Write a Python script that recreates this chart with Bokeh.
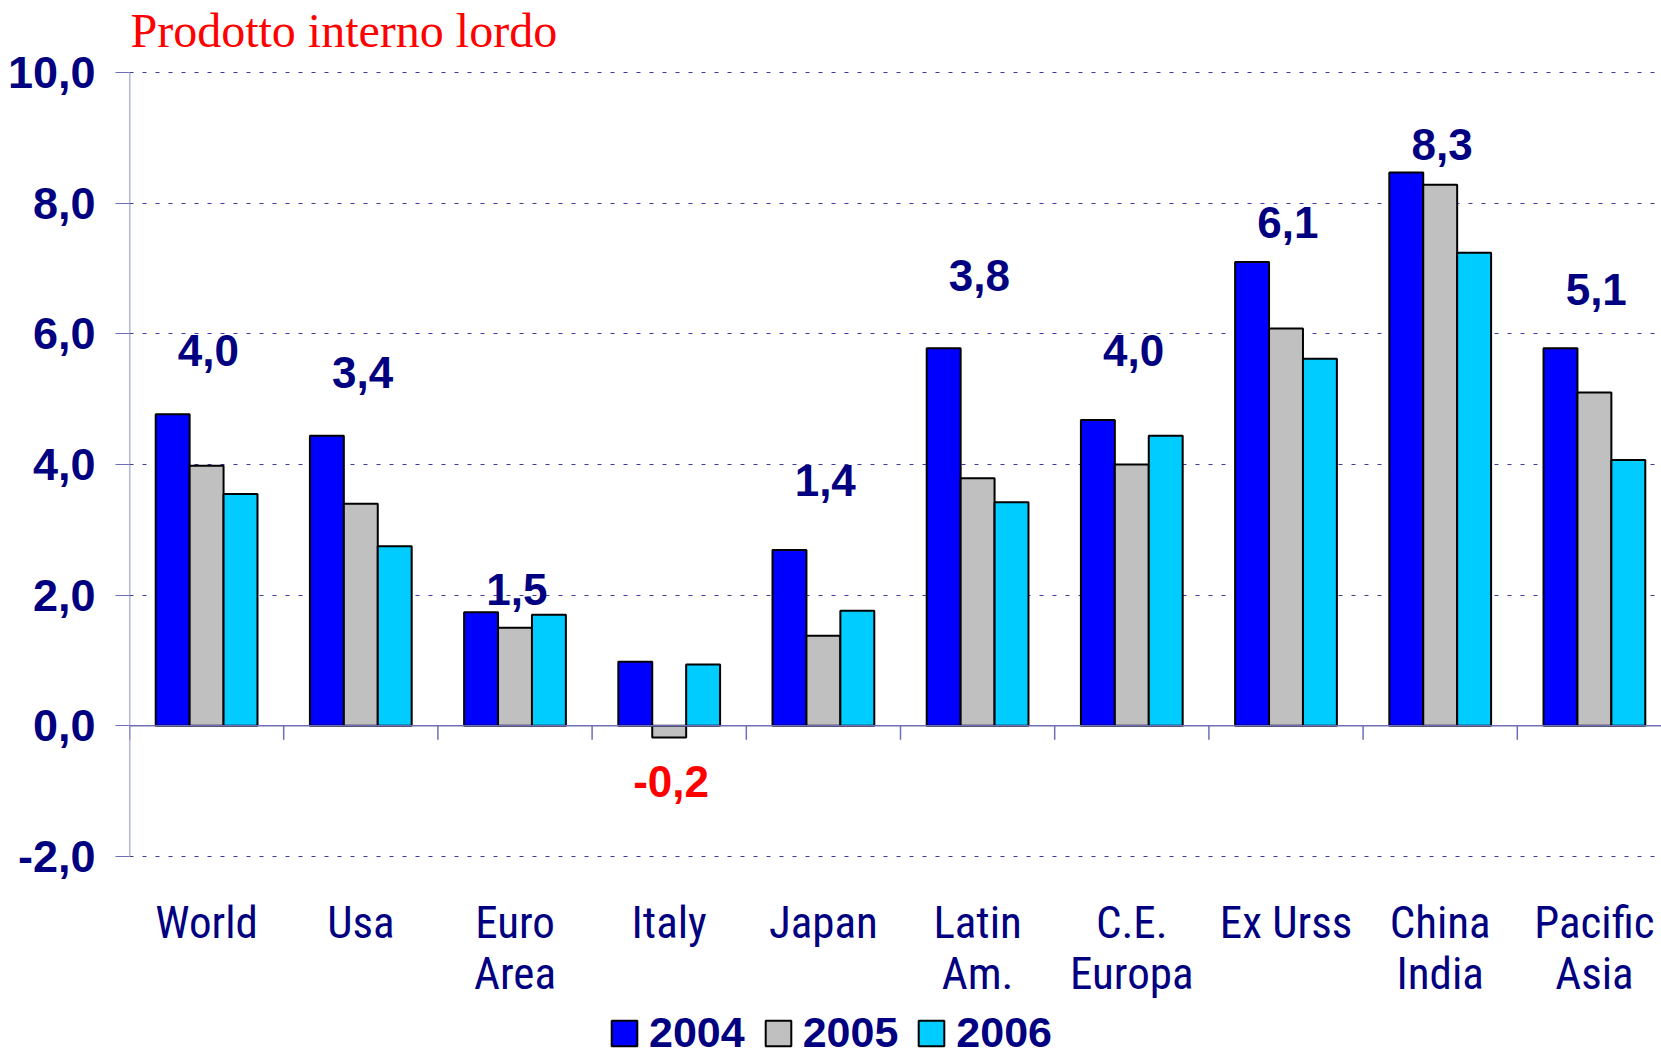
from bokeh.plotting import figure
from bokeh.models import Range1d, FixedTicker, Legend, LegendItem
from bokeh.core.properties import value
from bokeh.embed import file_html
from bokeh.resources import INLINE

# ---------------- data ----------------
categories = ["World", "Usa", "Euro\nArea", "Italy", "Japan", "Latin\nAm.",
              "C.E.\nEuropa", "Ex Urss", "China\nIndia", "Pacific\nAsia"]
years = ["2004", "2005", "2006"]
gdp_2004 = [4.77, 4.44, 1.74, 0.98, 2.69, 5.78, 4.68, 7.10, 8.47, 5.78]
gdp_2005 = [3.98, 3.40, 1.50, -0.18, 1.38, 3.79, 4.00, 6.08, 8.28, 5.10]
gdp_2006 = [3.55, 2.75, 1.70, 0.94, 1.76, 3.42, 4.44, 5.62, 7.24, 4.07]
value_labels = ["4,0", "3,4", "1,5", "-0,2", "1,4", "3,8", "4,0", "6,1", "8,3", "5,1"]
value_label_y = [5.74, 5.41, 2.09, -0.86, 3.76, 6.90, 5.74, 7.71, 8.90, 6.68]
y_ticks = [-2, 0, 2, 4, 6, 8, 10]
y_tick_labels = ["-2,0", "0,0", "2,0", "4,0", "6,0", "8,0", "10,0"]
title_text = "Prodotto interno lordo"

# ---------------- style / layout ----------------
NAVY = "#000080"
AXIS = "#6E6EB8"
GRID = "#3C3C9E"
bar_colors = ["#0000FF", "#C0C0C0", "#00CCFF"]
NARROW = "'Liberation Sans Narrow', 'Roboto Condensed', 'DejaVu Sans Condensed', 'Arial Narrow', 'Liberation Sans', sans-serif"

W, H = 1661, 1059
LEFT = 129
TOP_PX = 72          # pixel row of y = 10
PX_UNIT = 65.33
CAT_PX = 154.2
y_top = 10 + TOP_PX / PX_UNIT
y_bot = y_top - H / PX_UNIT
x_end = (W - LEFT) / CAT_PX

p = figure(width=W, height=H, x_range=Range1d(0, x_end), y_range=Range1d(y_bot, y_top),
           output_backend="svg", toolbar_location=None, x_axis_location=None,
           min_border_left=LEFT, min_border_right=0, min_border_top=0, min_border_bottom=0)
p.outline_line_color = None
p.background_fill_color = "white"
p.xgrid.visible = False

# y axis
ya = p.yaxis[0]
ya.ticker = FixedTicker(ticks=y_ticks)
ya.major_label_overrides = {t: s for t, s in zip(y_ticks, y_tick_labels)}
ya.axis_line_color = None
ya.major_tick_out = 14
ya.major_tick_in = 0
ya.major_tick_line_color = AXIS
ya.minor_tick_line_color = None
ya.major_label_standoff = 20
ya.major_label_text_font = "Liberation Sans"
ya.major_label_text_font_style = "bold"
ya.major_label_text_font_size = "45px"
ya.major_label_text_color = NAVY

# grid
p.ygrid.ticker = FixedTicker(ticks=[t for t in y_ticks if t != 0])
p.ygrid.grid_line_color = GRID
p.ygrid.grid_line_dash = "4 9"
p.ygrid.grid_line_width = 1

n = len(categories)
centers = [i + 0.5 for i in range(n)]
bw = 0.22
series = [gdp_2004, gdp_2005, gdp_2006]
renderers = []
for k, vals in enumerate(series):
    xs = [c + (k - 1) * bw for c in centers]
    r = p.vbar(x=xs, top=vals, bottom=0, width=bw, fill_color=bar_colors[k],
               line_color="black", line_width=2)
    renderers.append(r)

# axis lines (y axis from -2 to 10, x axis at 0)
p.segment(x0=[0], y0=[min(y_ticks)], x1=[0], y1=[max(y_ticks)], line_color=AXIS, line_width=1.5)
p.segment(x0=[0], y0=[0], x1=[x_end], y1=[0], line_color=AXIS, line_width=1.5)
bounds = list(range(n))
p.segment(x0=bounds, y0=[0] * n, x1=bounds, y1=[-14 / PX_UNIT] * n, line_color=AXIS, line_width=1.5)

# value labels
label_colors = ["red" if v < 0 else NAVY for v in gdp_2005]
p.text(x=[c + 0.012 for c in centers], y=value_label_y, text=value_labels, text_align="center",
       text_baseline="middle", text_font=value("Liberation Sans"), text_font_style="bold",
       text_font_size="44px", text_color=label_colors)

# category labels
cat_y = min(y_ticks) - (896 - 856) / PX_UNIT
p.text(x=centers, y=[cat_y] * n, text=categories, text_align="center", text_baseline="top",
       text_font=value(NARROW), text_font_size="45px", text_color=NAVY,
       text_line_height=0.95)

# title
p.text(x=[1 / CAT_PX], y=[10 + (TOP_PX - 29.7) / PX_UNIT], text=[title_text], text_align="left",
       text_baseline="alphabetic", text_font=value("Liberation Serif"), text_font_size="48px",
       text_color="red")

legend = Legend(items=[LegendItem(label=y, renderers=[r]) for y, r in zip(years, renderers)],
                orientation="horizontal", location=(479, 2), glyph_width=32, glyph_height=32,
                label_text_font="Liberation Sans", label_text_font_style="bold",
                label_text_font_size="43px", label_text_color=NAVY, label_standoff=9,
                spacing=17, padding=0, margin=0, border_line_color=None,
                background_fill_alpha=0)
p.add_layout(legend)

open("out.html", "w").write(file_html(p, INLINE))
